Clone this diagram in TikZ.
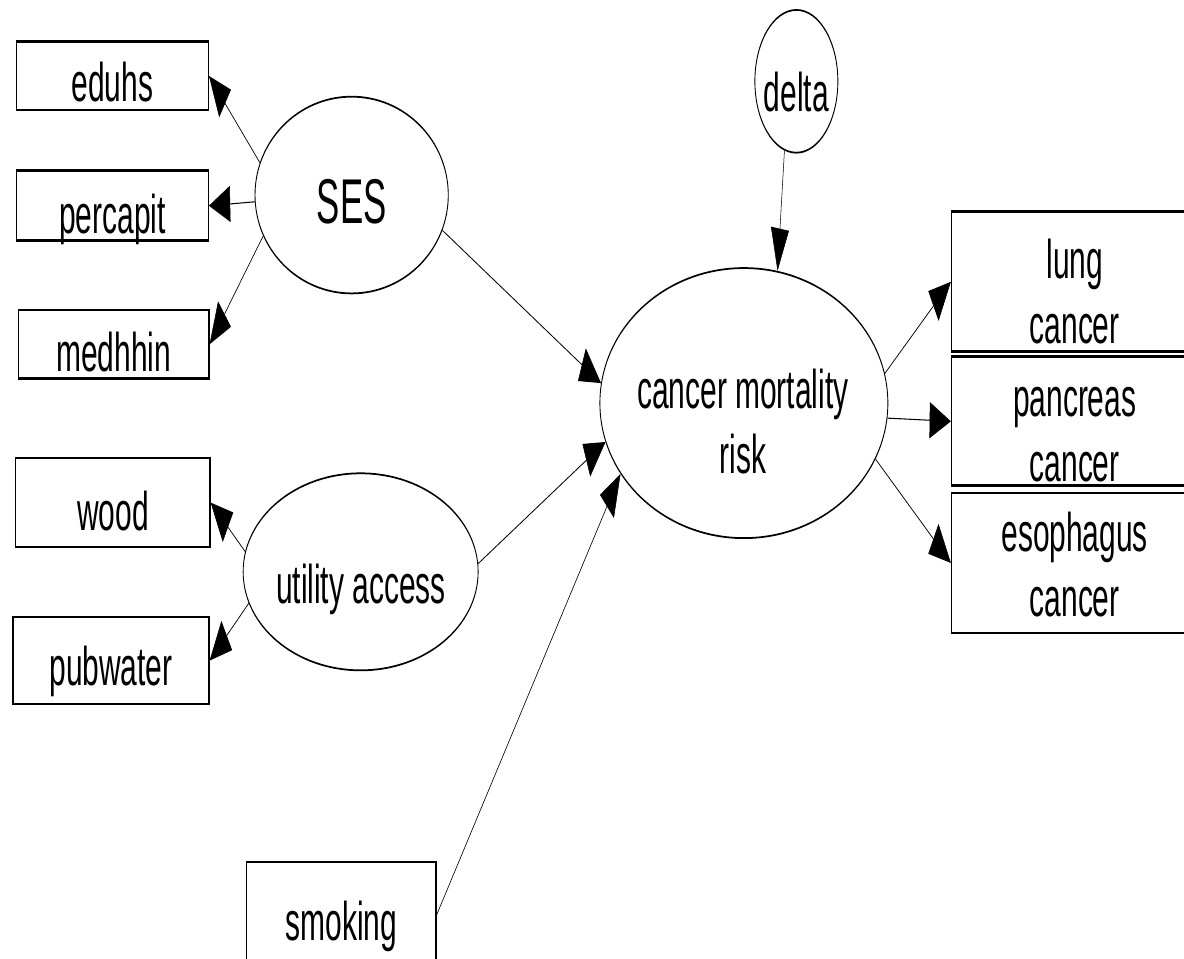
\documentclass[tikz,border=0pt]{standalone}
\usepackage{fontspec}
\setmainfont[FakeStretch=1.1]{Liberation Sans}
\usetikzlibrary{arrows.meta,shapes.geometric}

\begin{document}
\begin{tikzpicture}[x=0.04cm,y=-0.02cm,
    pxsize/.style 2 args={minimum width=#1*0.04cm,minimum height=#2*0.02cm},
    obs/.style={draw,rectangle,inner sep=0pt,line width=1.5pt},
    lat/.style={draw,ellipse,inner sep=0pt,line width=1pt},
    lbl/.style={inner sep=0pt,anchor=base,align=center,font=\fontsize{31}{37}\selectfont},
    link/.style={-{Triangle[length=0.85cm,width=0.72cm]},line width=0.6pt}]
  \useasboundingbox (0,0) rectangle (23.68cm,-19.16cm);
  \clip (0,0) rectangle (23.68cm,-19.16cm);
  \begin{scope}[transform canvas={xscale=0.5}]
    % observed indicators (left)
    \foreach \n/\x/\y/\w/\h/\b in {eduhs/112.5/75.9/191.6/68.3/101.7,
        percapit/112.5/205.7/191.6/70/233.3, medhhin/113.6/344.2/190.7/68.3/371.7,
        wood/112.9/502.5/194.3/89/530.7, pubwater/111/660.5/196/87/685}{
      \node[obs,pxsize={\w}{\h}] (\n) at (\x,\y) {};
      \node[lbl] (\n-t) at (\x,\b) {\n};
    }
    \node[obs,pxsize={189.3}{106.3}] (smoking) at (341.35,914.85) {};
    \node[lbl] (smoking-t) at (341.35,940) {smoking};
    % outcomes (right), base = last line
    \foreach \n/\y/\h/\b/\t in {lung/281.7/140/343.3/{lung\\cancer},
        pancreas/421.2/129/481.7/{pancreas\\cancer},
        esoph/562.85/139.7/616.7/{esophagus\\cancer}}{
      \node[obs,pxsize={246.3}{\h}] (\n) at (1074.85,\y) {};
      \node[lbl] (\n-t) at (1074.85,\b) {\t};
    }
    % latent variables
    \node[lat,pxsize={193.3}{196.7}] (ses) at (351.7,195) {};
    \node[lbl,font=\fontsize{36}{40}\selectfont] (ses-t) at (351.7,223) {SES};
    \node[lat,pxsize={235}{197}] (util) at (360.7,571.7) {};
    \node[lbl] (util-t) at (361,603) {utility access};
    \node[lat,pxsize={83}{142.7}] (delta) at (796.5,81.3) {};
    \node[lbl] (delta-t) at (796.5,111.7) {delta};
    \node[lat,pxsize={288}{270}] (cmr) at (744,403) {};
    \node[lbl] (cmr-t) at (743,473) {cancer mortality\\risk};
    % paths
    \draw[link] (ses.170) -- (eduhs.east);
    \draw[link] (ses.182) -- (percapit.east);
    \draw[link] (ses.193) -- (medhhin.east);
    \draw[link] (util.175) -- (wood.east);
    \draw[link] (util.188) -- (pubwater.east);
    \draw[link] (ses.-11) -- (cmr.176);
    \draw[link] (util.2) -- (cmr.188);
    \draw[link] (smoking.east) -- (cmr.196);
    \draw[link] (delta.251) -- (cmr.63);
    \draw[link] (cmr.6) -- (lung.west);
    \draw[link] (cmr.-3) -- (pancreas.west);
    \draw[link] (cmr.-12) -- (esoph.west);
  \end{scope}
\end{tikzpicture}
\end{document}
